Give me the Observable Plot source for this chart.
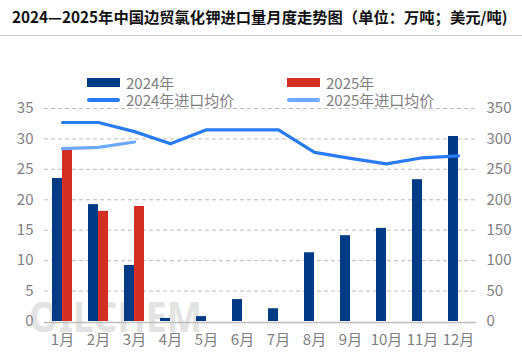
<!DOCTYPE html>
<html>
<head>
<meta charset="utf-8">
<script src="https://cdn.jsdelivr.net/npm/d3@7"></script>
<script src="https://cdn.jsdelivr.net/npm/@observablehq/plot@0.6"></script>
<style>
  body { margin: 0; background: #fff; font-family: "Noto Sans CJK SC", "Noto Sans", sans-serif; }
  #wrap { position: relative; width: 522px; height: 362px; overflow: hidden; }
  #title { height: 35px; line-height: 33px; border-bottom: 1px solid #c8c8c8; font-weight: bold; font-size: 15.3px; color: #111; padding-left: 12px; white-space: nowrap; }
  #wm { position: absolute; left: 29px; top: 301px; height: 30px; font: bold 42px/30px "Noto Sans", sans-serif; color: #e3e3e3; transform: scaleX(0.89); transform-origin: left top; z-index: 0; }
  #chart { position: relative; z-index: 1; }
  .leg { position: absolute; font-size: 15px; color: #7f7f7f; line-height: 18px; z-index: 2; white-space: nowrap; }
  .sw { position: absolute; width: 33px; height: 9px; }
  .ln { position: absolute; width: 33px; height: 4px; border-radius: 2px; }
</style>
</head>
<body>
<div id="wrap">
  <div id="title">2024—2025年中国边贸氯化钾进口量月度走势图（单位：万吨；美元/吨)</div>
  <div id="wm">OILCHEM</div>
  <div id="chart"></div>
</div>
<script>
const months = ["1月","2月","3月","4月","5月","6月","7月","8月","9月","10月","11月","12月"];
const vol2024 = [23.5, 19.2, 9.2, 0.5, 0.8, 3.6, 2.1, 11.3, 14.1, 15.3, 23.3, 30.4];
const vol2025 = [28.3, 18.1, 18.9];
const price2024 = [327, 327, 312, 292, 315, 315, 315, 278, 268, 259, 269, 272];
const price2025 = [284, 286, 295];
const yTicks = [0, 5, 10, 15, 20, 25, 30, 35];
const priceRatio = 10; // right axis 0-350 vs left axis 0-35

const c2024 = "#023a85", c2025 = "#d42f24", cl2024 = "#2a7bf2", cl2025 = "#6ea9ff";

const bars24 = vol2024.map((v, i) => ({month: months[i], v}));
const bars25 = vol2025.map((v, i) => ({month: months[i], v}));
const line24 = price2024.map((p, i) => ({month: months[i], p}));
const line25 = price2025.map((p, i) => ({month: months[i], p}));

const plot = Plot.plot({
  width: 522,
  height: 326,
  marginTop: 72,
  marginBottom: 41,
  marginLeft: 44,
  marginRight: 46,
  style: {fontFamily: "'Noto Sans CJK SC', 'Noto Sans', sans-serif", fontSize: "15px", color: "#7f7f7f", background: "transparent"},
  x: {type: "band", domain: months, padding: 0, label: null},
  y: {domain: [0, 35], label: null},
  marks: [
    Plot.gridY(yTicks.filter(d => d > 0), {stroke: "#bdbdbd", strokeOpacity: 1, strokeDasharray: "4,3"}),
    Plot.barY(bars24, {x: "month", y: "v", fill: c2024, insetLeft: 8, insetRight: 18}),
    Plot.barY(bars25, {x: "month", y: "v", fill: c2025, insetLeft: 18, insetRight: 8}),
    Plot.ruleY([0], {stroke: "#bfbfbf", strokeWidth: 1.5, dy: 1}),
    Plot.line(line24, {x: "month", y: d => d.p / priceRatio, stroke: cl2024, strokeWidth: 3.2, strokeLinecap: "round", strokeLinejoin: "round"}),
    Plot.line(line25, {x: "month", y: d => d.p / priceRatio, stroke: cl2025, strokeWidth: 3.2, strokeLinecap: "round", strokeLinejoin: "round"}),
    Plot.axisY(yTicks, {anchor: "left", tickSize: 0, tickPadding: 11, label: null, fill: "#7f7f7f"}),
    Plot.axisY(yTicks, {anchor: "right", tickSize: 0, tickPadding: 10, label: null, tickFormat: d => d * priceRatio, fill: "#7f7f7f"}),
    Plot.axisX(months, {anchor: "bottom", tickSize: 0, tickPadding: 13, label: null, fill: "#7f7f7f", fontSize: 15})
  ]
});
document.getElementById("chart").appendChild(plot);

// legend
const wrap = document.getElementById("wrap");
const legendItems = [
  {label: "2024年", kind: "sw", color: c2024, x: 87, y: 74},
  {label: "2025年", kind: "sw", color: c2025, x: 287, y: 74},
  {label: "2024年进口均价", kind: "ln", color: cl2024, x: 87, y: 91},
  {label: "2025年进口均价", kind: "ln", color: cl2025, x: 287, y: 91}
];
for (const it of legendItems) {
  const s = document.createElement("div");
  s.className = it.kind;
  s.style.background = it.color;
  s.style.left = it.x + "px";
  s.style.top = (it.kind === "sw" ? it.y + 4 : it.y + 7) + "px";
  wrap.appendChild(s);
  const t = document.createElement("div");
  t.className = "leg";
  t.textContent = it.label;
  t.style.left = (it.x + 39) + "px";
  t.style.top = it.y + "px";
  wrap.appendChild(t);
}
</script>
</body>
</html>
